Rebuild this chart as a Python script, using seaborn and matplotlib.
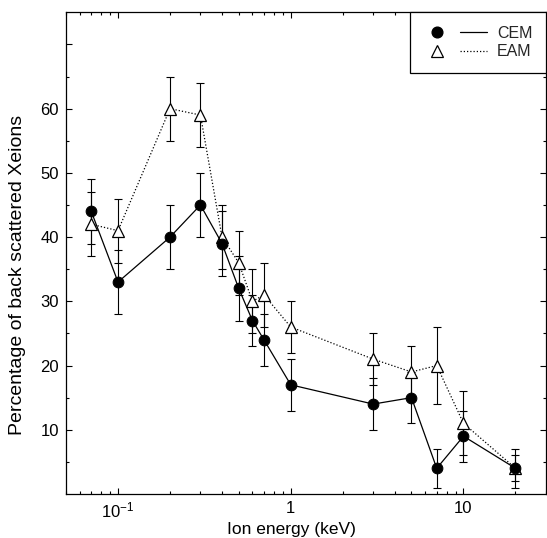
import matplotlib
matplotlib.use("Agg")
import matplotlib.pyplot as plt
import pandas as pd
import seaborn as sns
from matplotlib.lines import Line2D
from matplotlib.legend_handler import HandlerTuple
from matplotlib.ticker import FixedLocator, FixedFormatter, LogLocator, NullFormatter

# Ion energy (keV) and back-scattered fraction (%) for the two models
energy = [0.07, 0.1, 0.2, 0.3, 0.4, 0.5, 0.6, 0.7, 1, 3, 5, 7, 10, 20]
cem = [44, 33, 40, 45, 39, 32, 27, 24, 17, 14, 15, 4, 9, 4]
cem_err = [5, 5, 5, 5, 5, 5, 4, 4, 4, 4, 4, 3, 4, 3]
eam = [42, 41, 60, 59, 40, 36, 30, 31, 26, 21, 19, 20, 11, 4]
eam_err = [5, 5, 5, 5, 5, 5, 5, 5, 4, 4, 4, 6, 5, 2]

x_major = [0.1, 1, 10]
x_major_labels = [r"$10^{-1}$", "1", "10"]
y_major = [10, 20, 30, 40, 50, 60, 70]
y_major_labels = ["10", "20", "30", "40", "50", "60", ""]
y_minor = [5, 15, 25, 35, 45, 55, 65]

sns.set_theme(style="ticks")
plt.rcParams["font.family"] = ["Liberation Sans", "DejaVu Sans"]
plt.rcParams["mathtext.fontset"] = "custom"
plt.rcParams["mathtext.rm"] = "Liberation Sans"
plt.rcParams["mathtext.it"] = "Liberation Sans"
plt.rcParams["mathtext.bf"] = "Liberation Sans"

df_cem = pd.DataFrame({"energy": energy, "value": cem})
df_eam = pd.DataFrame({"energy": energy, "value": eam})

fig = plt.figure(figsize=(5.47, 5.38), dpi=100)
ax = fig.add_axes([0.1207, 0.0818, 0.8773, 0.8953])

# error bars underneath the markers
ax.errorbar(energy, cem, yerr=cem_err, fmt="none", ecolor="black",
            elinewidth=0.8, capsize=3.2, capthick=0.8, zorder=1)
ax.errorbar(energy, eam, yerr=eam_err, fmt="none", ecolor="black",
            elinewidth=0.8, capsize=3.2, capthick=0.8, zorder=1)

sns.lineplot(data=df_eam, x="energy", y="value", ax=ax, color="black",
             linewidth=0.9, linestyle=(0, (1, 1.6)), marker="^", markersize=8,
             markerfacecolor="white", markeredgecolor="black",
             markeredgewidth=0.9, errorbar=None, zorder=2)
sns.lineplot(data=df_cem, x="energy", y="value", ax=ax, color="black",
             linewidth=0.9, marker="o", markersize=7.7,
             markerfacecolor="black", markeredgecolor="black",
             errorbar=None, zorder=3)

ax.set_xscale("log")
ax.set_xlim(0.05, 30)
ax.set_ylim(0, 75)

ax.xaxis.set_major_locator(FixedLocator(x_major))
ax.xaxis.set_major_formatter(FixedFormatter(x_major_labels))
ax.xaxis.set_minor_locator(LogLocator(base=10, subs=range(2, 10)))
ax.xaxis.set_minor_formatter(NullFormatter())
ax.yaxis.set_major_locator(FixedLocator(y_major))
ax.yaxis.set_major_formatter(FixedFormatter(y_major_labels))
ax.yaxis.set_minor_locator(FixedLocator(y_minor))

ax.tick_params(which="both", direction="in", top=True, right=True,
               color="black", labelsize=12, labelcolor="black", width=0.8)
ax.tick_params(which="major", length=4, pad=5)
ax.tick_params(which="minor", length=2.2)

for s in ax.spines.values():
    s.set_visible(True)
    s.set_color("black")
    s.set_linewidth(0.9)

ax.set_xlabel("Ion energy (keV)", fontsize=12.5, color="black")
ax.xaxis.set_label_coords(0.47, -0.058, transform=ax.transAxes)
ax.set_ylabel("Percentage of back scattered Xeions", fontsize=14,
              color="black")
ax.yaxis.set_label_coords(-0.083, 0.455, transform=ax.transAxes)

h_cem = (Line2D([], [], marker="o", color="black", linestyle="none", markersize=7.7),
         Line2D([], [], color="black", linewidth=0.9))
h_eam = (Line2D([], [], marker="^", color="black", markerfacecolor="white",
                linestyle="none", markersize=8, markeredgewidth=0.9),
         Line2D([], [], color="black", linewidth=0.9, linestyle=(0, (1, 1.6))))
leg = ax.legend([h_cem, h_eam], ["CEM", "EAM"], loc="upper right",
                handler_map={tuple: HandlerTuple(ndivide=None, pad=0.6)},
                handlelength=4.0, handletextpad=0.6, borderaxespad=0,
                borderpad=0.85, labelspacing=0.2, fontsize=11.5,
                fancybox=False, framealpha=1, edgecolor="black",
                facecolor="white")
leg.get_frame().set_linewidth(0.9)

fig.savefig("out.png", dpi=100)
